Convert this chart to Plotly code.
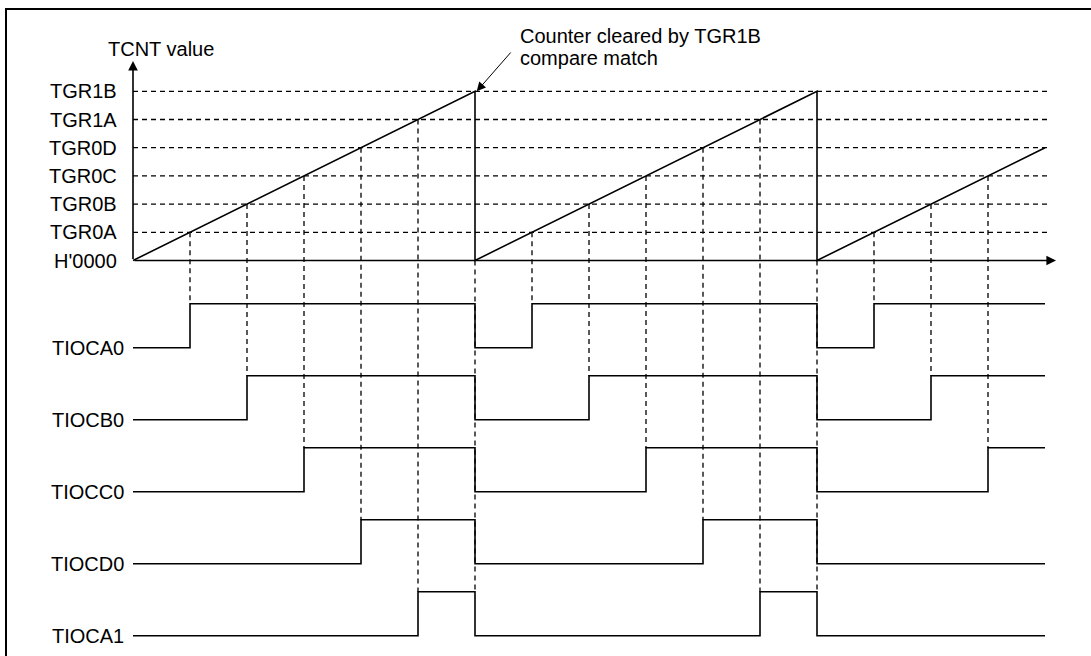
import plotly.graph_objects as go

# ---------------- data ----------------
register_names = ["H'0000", "TGR0A", "TGR0B", "TGR0C", "TGR0D", "TGR1A", "TGR1B"]
register_values = [0, 1, 2, 3, 4, 5, 6]

# TCNT sawtooth (time units, counter units)
tcnt_t = [0, 6, 6, 12, 12, 16]
tcnt_v = [0, 6, 0, 6, 0, 4]

# compare-match times (crossings of each register)
match_times = {
    "TGR0A": [1, 7, 13],
    "TGR0B": [2, 8, 14],
    "TGR0C": [3, 9, 15],
    "TGR0D": [4, 10],
    "TGR1A": [5, 11],
}
clear_times = [6, 12]

signal_names = ["TIOCA0", "TIOCB0", "TIOCC0", "TIOCD0", "TIOCA1"]
signal_regs = ["TGR0A", "TGR0B", "TGR0C", "TGR0D", "TGR1A"]
sig_t = {
    "TIOCA0": [0, 1, 6, 7, 12, 13, 16],
    "TIOCB0": [0, 2, 6, 8, 12, 14, 16],
    "TIOCC0": [0, 3, 6, 9, 12, 15, 16],
    "TIOCD0": [0, 4, 6, 10, 12, 16],
    "TIOCA1": [0, 5, 6, 11, 12, 16],
}
sig_level = {
    "TIOCA0": [0, 1, 0, 1, 0, 1, 1],
    "TIOCB0": [0, 1, 0, 1, 0, 1, 1],
    "TIOCC0": [0, 1, 0, 1, 0, 1, 1],
    "TIOCD0": [0, 1, 0, 1, 0, 0],
    "TIOCA1": [0, 1, 0, 1, 0, 0],
}

# ---------------- layout geometry (pixels) ----------------
W, H = 1091, 656
X0_PX, T_PX = 133.0, 57.0          # t=0 position, px per time unit
Y0_PX, V_PX = 260.5, 28.2          # counter 0 position, px per counter unit
SIG_LOW0_PX, SIG_PITCH_PX, SIG_AMP_PX = 347.7, 72.0, 44.0

def vy(ypx):
    return (Y0_PX - ypx) / V_PX

def tx(xpx):
    return (xpx - X0_PX) / T_PX

x_range = [tx(0), tx(W)]
y_range = [vy(H), vy(0)]

sig_low = {n: vy(SIG_LOW0_PX + i * SIG_PITCH_PX) for i, n in enumerate(signal_names)}
sig_high = {n: sig_low[n] + SIG_AMP_PX / V_PX for n in signal_names}

DASH_END_T = tx(1050)
AXIS_END_T = tx(1056)
AXIS_TOP_V = vy(61)

FONT = dict(family="Liberation Sans, Arial, sans-serif", size=20, color="black")
SOLID = dict(color="black", width=1.6)
DASHED = dict(color="black", width=1.3, dash="5px,4px")

fig = go.Figure()

# horizontal dashed register lines
hx, hy = [], []
for v in register_values[1:]:
    hx += [0, DASH_END_T, None]
    hy += [v, v, None]
fig.add_trace(go.Scatter(x=hx, y=hy, mode="lines", line=DASHED, hoverinfo="skip"))

# vertical dashed lines from compare match down to signal high level
vx, vyy = [], []
for reg, sname in zip(signal_regs, signal_names):
    rv = register_values[register_names.index(reg)]
    for t in match_times[reg]:
        vx += [t, t, None]
        vyy += [rv, sig_high[sname], None]
for t in clear_times:
    vx += [t, t, None]
    vyy += [0, sig_high["TIOCA1"], None]
fig.add_trace(go.Scatter(x=vx, y=vyy, mode="lines", line=DASHED, hoverinfo="skip"))

# TCNT ramp
fig.add_trace(go.Scatter(x=tcnt_t, y=tcnt_v, mode="lines", line=SOLID, hoverinfo="skip"))

# signals
for sname in signal_names:
    lo, hi = sig_low[sname], sig_high[sname]
    ys = [lo + (hi - lo) * l for l in sig_level[sname]]
    fig.add_trace(go.Scatter(x=sig_t[sname], y=ys, mode="lines", line=SOLID,
                             line_shape="hv", hoverinfo="skip"))

annotations = []
# axes with arrows
annotations.append(dict(x=AXIS_END_T, y=0, ax=0, ay=0, xref="x", yref="y",
                        axref="x", ayref="y", showarrow=True, arrowhead=2,
                        arrowsize=1.2, arrowwidth=1.6, arrowcolor="black", text=""))
annotations.append(dict(x=0, y=AXIS_TOP_V, ax=0, ay=0, xref="x", yref="y",
                        axref="x", ayref="y", showarrow=True, arrowhead=2,
                        arrowsize=1.2, arrowwidth=1.6, arrowcolor="black", text=""))

# register labels
for name, v in zip(register_names, register_values):
    annotations.append(dict(x=tx(119), y=v, xref="x", yref="y", text=name,
                            showarrow=False, xanchor="right", yanchor="middle", font=FONT))
# signal labels
for sname in signal_names:
    annotations.append(dict(x=tx(126), y=sig_low[sname], xref="x", yref="y", text=sname,
                            showarrow=False, xanchor="right", yanchor="middle", font=FONT))

annotations.append(dict(x=tx(106), y=vy(49), xref="x", yref="y", text="TCNT value",
                        showarrow=False, xanchor="left", yanchor="middle", font=FONT))
annotations.append(dict(x=tx(518), y=vy(36), xref="x", yref="y", text="Counter cleared by TGR1B",
                        showarrow=False, xanchor="left", yanchor="middle", font=FONT))
annotations.append(dict(x=tx(518), y=vy(58), xref="x", yref="y", text="compare match",
                        showarrow=False, xanchor="left", yanchor="middle", font=FONT))
# callout arrow
annotations.append(dict(x=6.03, y=6, ax=tx(512), ay=vy(51), xref="x", yref="y",
                        axref="x", ayref="y", showarrow=True, arrowhead=2, arrowsize=1.8,
                        arrowwidth=1, arrowcolor="black", text=""))

shapes = [
    dict(type="line", xref="paper", yref="paper", x0=5 / W, x1=1, y0=1 - 9 / H, y1=1 - 9 / H,
         line=dict(color="black", width=2)),
    dict(type="line", xref="paper", yref="paper", x0=6 / W, x1=6 / W, y0=0, y1=1 - 9 / H,
         line=dict(color="black", width=2)),
]

fig.update_layout(
    width=W, height=H, margin=dict(l=0, r=0, t=0, b=0),
    paper_bgcolor="white", plot_bgcolor="white", showlegend=False,
    xaxis=dict(range=x_range, visible=False, fixedrange=True),
    yaxis=dict(range=y_range, visible=False, fixedrange=True),
    annotations=annotations, shapes=shapes,
)

fig.write_html("out.html", config={"displayModeBar": False},
               post_script="document.body.style.margin='0px';document.body.style.overflow='hidden';")
